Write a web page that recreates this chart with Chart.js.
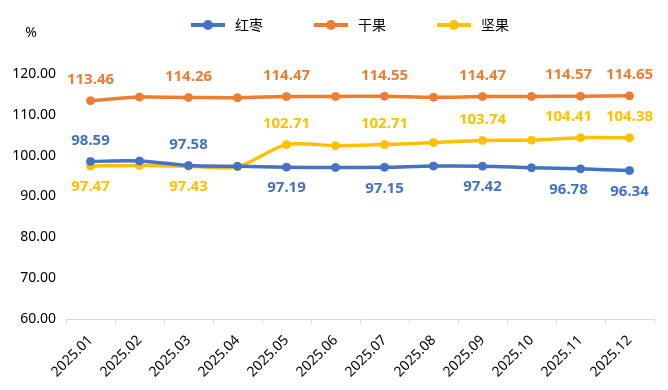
<!DOCTYPE html>
<html>
<head>
<meta charset="utf-8">
<script src="https://cdn.jsdelivr.net/npm/chart.js@4"></script>
<style>
  html, body { margin: 0; padding: 0; background: #fff; }
  #caixa { width: 668px; height: 390px; }
</style>
</head>
<body>
<div id="caixa"><canvas id="grafico"></canvas></div>
<script>
// dados (meses sem rótulo são estimados)
const meses = ['2025.01', '2025.02', '2025.03', '2025.04', '2025.05', '2025.06',
               '2025.07', '2025.08', '2025.09', '2025.10', '2025.11', '2025.12'];
const nomesSeries = ['红枣', '干果', '坚果'];
const hongzao = [98.59, 98.70, 97.58, 97.40, 97.19, 97.10, 97.15, 97.45, 97.42, 97.05, 96.78, 96.34];
const ganguo  = [113.46, 114.35, 114.26, 114.20, 114.47, 114.50, 114.55, 114.30, 114.47, 114.50, 114.57, 114.65];
const jianguo = [97.47, 97.60, 97.43, 97.30, 102.71, 102.45, 102.71, 103.20, 103.74, 103.80, 104.41, 104.38];
const yMin = 60, yMax = 120, yPasso = 10;
const unidade = '%';
// meses que levam rótulo de valor
const indicesRotulo = [0, 2, 4, 6, 8, 10, 11];

const cores = ['#4472C4', '#ED7D31', '#FFC000'];
const fonteNum = '"Noto Sans", "Noto Sans CJK SC", sans-serif';

function iconeLegenda(cor) {
    const c = document.createElement('canvas');
    c.width = 78; c.height = 12;
    const g = c.getContext('2d');
    g.strokeStyle = cor;
    g.lineWidth = 4;
    g.beginPath(); g.moveTo(41, 6); g.lineTo(75, 6); g.stroke();
    g.fillStyle = cor;
    g.beginPath(); g.arc(58, 6, 5, 0, Math.PI * 2); g.fill();
    return c;
}

// rótulo acima ou abaixo do ponto
function rotuloAcima(serie, j) {
    if (serie === 0) return j < 4;
    if (serie === 2) return j >= 4;
    return true;
}

const pluginRotulos = {
    id: 'rotulos',
    afterDatasetsDraw(chart) {
        const ctx = chart.ctx;
        ctx.save();
        ctx.font = 'bold 15px ' + fonteNum;
        ctx.textAlign = 'center';
        ctx.textBaseline = 'middle';
        chart.data.datasets.forEach((ds, i) => {
            const meta = chart.getDatasetMeta(i);
            ctx.fillStyle = cores[i];
            indicesRotulo.forEach(j => {
                const p = meta.data[j];
                const dy = rotuloAcima(i, j) ? -21 : 21;
                const dx = j === 10 ? -12 : 0;
                ctx.fillText(ds.data[j].toFixed(2), p.x + dx, p.y + dy);
            });
        });
        ctx.font = '14px ' + fonteNum;
        ctx.fillStyle = '#000';
        ctx.fillText(unidade, 31, 33);
        ctx.restore();
    }
};

const series = [hongzao, ganguo, jianguo];
const datasets = series.map((d, i) => ({
    label: nomesSeries[i],
    data: d,
    xAxisID: 'x',
    yAxisID: 'y',
    borderColor: cores[i],
    backgroundColor: cores[i],
    borderWidth: 3.5,
    pointRadius: 4,
    pointBorderWidth: 1,
    pointHoverRadius: 4,
    tension: 0.3,
    fill: false
}));

new Chart(document.getElementById('grafico'), {
    type: 'line',
    data: { labels: meses, datasets },
    plugins: [pluginRotulos],
    options: {
        responsive: true,
        maintainAspectRatio: false,
        animation: false,
        layout: { padding: { left: 0, right: 9, top: 8, bottom: 0 } },
        plugins: {
            tooltip: { enabled: false },
            legend: {
                position: 'top',
                labels: {
                    usePointStyle: true,
                    pointStyleWidth: 78,
                    padding: 10,
                    color: '#000',
                    font: { size: 14, family: '"Noto Sans CJK SC", sans-serif' },
                    generateLabels: chart => chart.data.datasets.map((ds, i) => ({
                        text: ds.label,
                        pointStyle: iconeLegenda(cores[i]),
                        fillStyle: cores[i],
                        strokeStyle: cores[i],
                        lineWidth: 0,
                        hidden: false,
                        datasetIndex: i
                    }))
                }
            }
        },
        scales: {
            x: {
                offset: true,
                grid: { display: true, drawOnChartArea: false, tickLength: 5, color: '#d9d9d9', offset: true },
                border: { display: true, color: '#d9d9d9' },
                ticks: { minRotation: 45, maxRotation: 45, color: '#000', padding: 8,
                         font: { size: 14, family: fonteNum } },
                afterFit: s => { s.height = 71; }
            },
            xTopo: {
                type: 'category',
                labels: meses,
                position: 'top',
                grid: { display: false },
                border: { display: false },
                ticks: { display: false },
                afterFit: s => { s.height = 32; }
            },
            y: {
                min: yMin, max: yMax,
                grid: { display: false, drawTicks: false },
                border: { display: false },
                ticks: { stepSize: yPasso, padding: 10, color: '#000',
                         font: { size: 14, family: fonteNum },
                         callback: v => v.toFixed(2) },
                afterFit: s => { s.width = 66; }
            },
            yDir: {
                position: 'right',
                min: yMin, max: yMax,
                grid: { display: false },
                border: { display: false },
                ticks: { display: false },
                afterFit: s => { s.width = 5; }
            }
        }
    }
});
</script>
</body>
</html>
